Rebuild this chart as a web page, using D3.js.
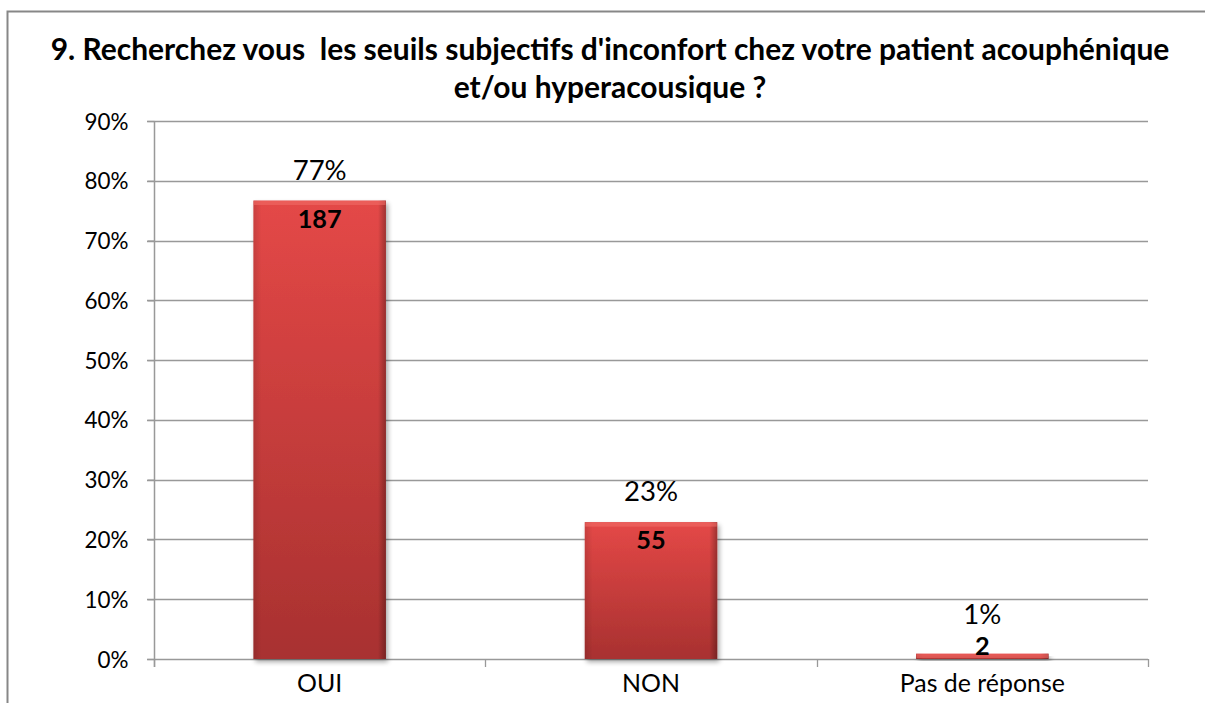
<!DOCTYPE html>
<html><head><meta charset="utf-8">
<script src="https://cdn.jsdelivr.net/npm/d3@7/dist/d3.min.js"></script>
<style>body{margin:0;background:#fff}svg{display:block}</style>
</head><body>
<svg id="c" width="1205" height="703"></svg>
<script>
const categories = ["OUI", "NON", "Pas de réponse"];
const percents = [0.767, 0.229, 0.009];
const pctLabels = ["77%", "23%", "1%"];
const counts = [187, 55, 2];
const yTicks = [0, 0.1, 0.2, 0.3, 0.4, 0.5, 0.6, 0.7, 0.8, 0.9];
const titleLines = ["9. Recherchez vous  les seuils subjectifs d'inconfort chez votre patient acouphénique", "et/ou hyperacousique ?"];

const svg = d3.select("#c");
const FONT = "Lato, 'Open Sans', sans-serif";
const m = {left: 154, right: 1148, top: 121, bottom: 659};

function fit(sel, refNode, target) {
  const w = refNode.getComputedTextLength();
  const fs = parseFloat(d3.select(refNode).attr("font-size"));
  sel.attr("font-size", (fs * target / w).toFixed(2));
}

svg.append("path").attr("d", "M7.5,703 V11.5 H1205").attr("fill", "none").attr("stroke", "#878787").attr("stroke-width", 2);

const x = d3.scaleBand().domain(categories).range([m.left, m.right]).paddingInner(0.6).paddingOuter(0.3);
const y = d3.scaleLinear().domain([0, 0.9]).range([m.bottom, m.top]);

const defs = svg.append("defs");
const g1 = defs.append("linearGradient").attr("id", "bg").attr("x1", 0).attr("y1", 0).attr("x2", 0).attr("y2", 1);
g1.append("stop").attr("offset", "0%").attr("stop-color", "#e44847");
g1.append("stop").attr("offset", "100%").attr("stop-color", "#a83130");
const g2 = defs.append("linearGradient").attr("id", "side").attr("x1", 0).attr("y1", 0).attr("x2", 1).attr("y2", 0);
g2.append("stop").attr("offset", "0%").attr("stop-color", "#000").attr("stop-opacity", 0.12);
g2.append("stop").attr("offset", "6%").attr("stop-color", "#000").attr("stop-opacity", 0);
g2.append("stop").attr("offset", "94%").attr("stop-color", "#000").attr("stop-opacity", 0);
g2.append("stop").attr("offset", "100%").attr("stop-color", "#000").attr("stop-opacity", 0.3);
const f = defs.append("filter").attr("id", "sh").attr("x", "-10%").attr("y", "-10%").attr("width", "130%").attr("height", "130%");
f.append("feGaussianBlur").attr("in", "SourceAlpha").attr("stdDeviation", 2.5);
f.append("feOffset").attr("dx", 2).attr("dy", 3).attr("result", "b");
f.append("feComponentTransfer").append("feFuncA").attr("type", "linear").attr("slope", 0.35);
const fm = f.append("feMerge"); fm.append("feMergeNode"); fm.append("feMergeNode").attr("in", "SourceGraphic");

svg.append("g").selectAll("line").data(yTicks).join("line")
  .attr("x1", m.left - 7).attr("x2", m.right)
  .attr("y1", d => Math.round(y(d)) + 0.5).attr("y2", d => Math.round(y(d)) + 0.5)
  .attr("stroke", "#999").attr("stroke-width", 1.3);

const yAxis = d3.axisLeft(y).tickValues(yTicks).tickFormat(d3.format(".0%")).tickSize(7).tickPadding(19);
const ya = svg.append("g").attr("transform", `translate(${m.left + 0.5},0)`).call(yAxis);
ya.select(".domain").remove();
ya.selectAll(".tick line").attr("stroke", "#999").attr("stroke-width", 1.3);
const yt = ya.selectAll("text").attr("font-family", FONT).attr("font-size", 20).attr("fill", "#000").attr("dy", "0.36em");
fit(yt, yt.filter(d => d === 0.1).node(), 44);

svg.append("line").attr("x1", m.left + 0.5).attr("x2", m.left + 0.5).attr("y1", m.top).attr("y2", m.bottom + 8).attr("stroke", "#999").attr("stroke-width", 1.5);
const bounds = categories.map(c => x(c) - x.step() * x.paddingInner() / 2).concat([m.right]);
svg.append("g").selectAll("line").data(bounds).join("line")
  .attr("x1", d => Math.round(d) + 0.5).attr("x2", d => Math.round(d) + 0.5)
  .attr("y1", m.bottom).attr("y2", m.bottom + 8).attr("stroke", "#999").attr("stroke-width", 1.3);
const xt = svg.append("g").selectAll("text").data(categories).join("text")
  .attr("x", d => x(d) + x.bandwidth() / 2).attr("y", 692)
  .attr("text-anchor", "middle").attr("font-family", FONT).attr("font-size", 20).text(d => d);
fit(xt, xt.filter((d, i) => i === 2).node(), 165);

const bars = svg.append("g").selectAll("g").data(categories).join("g");
bars.append("rect").attr("x", d => x(d)).attr("width", x.bandwidth())
  .attr("y", (d, i) => y(percents[i])).attr("height", (d, i) => y(0) - y(percents[i]))
  .attr("fill", "url(#bg)").attr("filter", "url(#sh)");
bars.append("rect").attr("x", d => x(d)).attr("width", x.bandwidth())
  .attr("y", (d, i) => y(percents[i])).attr("height", (d, i) => y(0) - y(percents[i]))
  .attr("fill", "url(#side)");
bars.append("rect").attr("x", d => x(d) + 0.5).attr("width", x.bandwidth() - 1)
  .attr("y", (d, i) => y(percents[i]) + 0.5).attr("height", (d, i) => Math.max(0, Math.min(4, y(0) - y(percents[i]) - 1)))
  .attr("fill", "#f06a66").attr("opacity", 0.6);

const pl = svg.append("g").selectAll("text").data(categories).join("text")
  .attr("x", d => x(d) + x.bandwidth() / 2).attr("y", (d, i) => y(percents[i]) - (i === 2 ? 30 : 21))
  .attr("text-anchor", "middle").attr("font-family", FONT).attr("font-size", 24).text((d, i) => pctLabels[i]);
fit(pl, pl.filter((d, i) => i === 0).node(), 54);
const cl = svg.append("g").selectAll("text").data(categories).join("text")
  .attr("x", d => x(d) + x.bandwidth() / 2)
  .attr("y", (d, i) => Math.min(y(percents[i]) + 27, y(0) - 4))
  .attr("text-anchor", "middle").attr("font-family", FONT).attr("font-weight", "bold").attr("font-size", 22).text((d, i) => counts[i]);
fit(cl, cl.filter((d, i) => i === 0).node(), 44);

const tt = svg.append("g").selectAll("text").data(titleLines).join("text")
  .attr("x", 610).attr("y", (d, i) => 60 + i * 38)
  .attr("text-anchor", "middle").attr("font-family", FONT).attr("font-weight", "bold").attr("font-size", 26)
  .style("white-space", "pre").text(d => d);
fit(tt, tt.filter((d, i) => i === 0).node(), 1119);
</script>
</body></html>
